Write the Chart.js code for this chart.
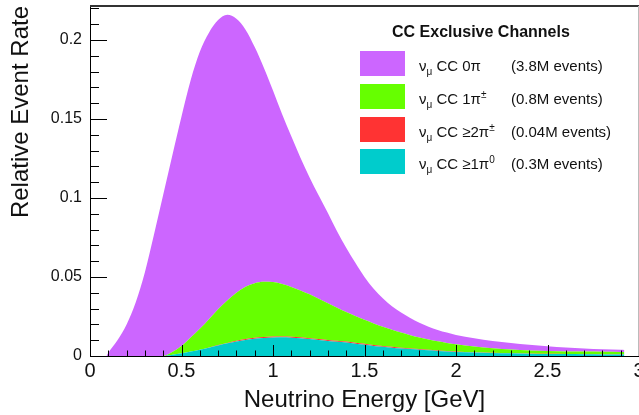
<!DOCTYPE html>
<html lang="en">
<head>
  <meta charset="UTF-8">
  <title>CC Exclusive Channels</title>
  <script src="https://cdn.jsdelivr.net/npm/chart.js"></script>
  <style>
    body { margin: 0; background: #fff; overflow: hidden; }
    #wrap { position: relative; width: 639px; height: 415px; }
    #legend { position: absolute; left: 0; top: 0; font-family: "Liberation Sans", Arial, sans-serif; color: #111; }
    #legend .title { position: absolute; left: 392px; top: 24px; font-size: 16px; font-weight: bold; line-height: 1; white-space: nowrap; }
    #legend .box { position: absolute; left: 360px; width: 45px; height: 25px; }
    #legend .name, #legend .count { position: absolute; font-size: 15px; line-height: 1; white-space: nowrap; }
    #legend .name { left: 419px; }
    #legend .count { left: 511px; }
    #legend sub, #legend sup { font-size: 10px; line-height: 0; }
  </style>
</head>
<body>
  <div id="wrap">
    <canvas id="chart" width="639" height="415"></canvas>
    <div id="legend"></div>
  </div>

  <script>
    // neutrino energy bins (GeV)
    const energy = [0.09, 0.10, 0.15, 0.20, 0.25, 0.30, 0.35, 0.40,
      0.45, 0.50, 0.55, 0.60, 0.65, 0.70, 0.75, 0.80,
      0.85, 0.90, 0.95, 1.00, 1.05, 1.10, 1.15, 1.20,
      1.25, 1.30, 1.35, 1.40, 1.45, 1.50, 1.55, 1.60,
      1.65, 1.70, 1.75, 1.80, 1.85, 1.90, 1.95, 2.00,
      2.1, 2.2, 2.3, 2.4, 2.5, 2.6, 2.7, 2.8, 2.9, 2.92];

    // relative event rate per channel (stacked: 1pi0 at the bottom, 0pi on top)
    const cc0pi = [0, 0.002, 0.010, 0.020, 0.034, 0.053, 0.077, 0.102,
      0.1245, 0.1453, 0.1628, 0.1753, 0.1813, 0.1830, 0.1808, 0.1733,
      0.1626, 0.1494, 0.1355, 0.1212, 0.1075, 0.0953, 0.0840, 0.0740,
      0.0653, 0.0571, 0.0484, 0.0406, 0.0337, 0.0271, 0.0219, 0.0180,
      0.0149, 0.0127, 0.0108, 0.0093, 0.0081, 0.0072, 0.0065, 0.0059,
      0.0052, 0.0046, 0.0041, 0.0036, 0.0031, 0.0025, 0.0020, 0.0016, 0.0013, 0.0012];

    const cc1piCharged = [0, 0, 0, 0, 0, 0, 0, 0,
      0.0017, 0.0046, 0.0089, 0.0132, 0.0179, 0.0227, 0.0268, 0.0305,
      0.0332, 0.0346, 0.0350, 0.0345, 0.0331, 0.0315, 0.0297, 0.0277,
      0.0255, 0.0233, 0.0210, 0.0188, 0.0169, 0.0152, 0.0137, 0.0122,
      0.0108, 0.0096, 0.0084, 0.0073, 0.0065, 0.0058, 0.0051, 0.0045,
      0.0036, 0.0028, 0.0022, 0.0019, 0.0017, 0.0016, 0.0016, 0.0016, 0.0015, 0.0015];

    const ccMultiPiCharged = [0, 0, 0, 0, 0, 0, 0, 0,
      0, 0, 0, 0, 0.0001, 0.0002, 0.0003, 0.0004,
      0.0005, 0.0006, 0.0006, 0.0006, 0.0006, 0.0006, 0.0006, 0.0006,
      0.0006, 0.0006, 0.0006, 0.0006, 0.0006, 0.0006, 0.0005, 0.0005,
      0.0005, 0.0004, 0.0004, 0.0004, 0.0003, 0.0003, 0.0003, 0.0003,
      0.0002, 0.0002, 0.0002, 0.0001, 0.0001, 0.0001, 0.0001, 0.0001, 0.0001, 0.0001];

    const cc1piNeutral = [0, 0, 0, 0, 0, 0, 0, 0,
      0.0008, 0.0017, 0.0028, 0.0040, 0.0053, 0.0067, 0.0080, 0.0092,
      0.0102, 0.0109, 0.0114, 0.0117, 0.0118, 0.0116, 0.0112, 0.0107,
      0.0101, 0.0095, 0.0090, 0.0085, 0.0078, 0.0071, 0.0064, 0.0058,
      0.0053, 0.0048, 0.0044, 0.0040, 0.0036, 0.0032, 0.0029, 0.0026,
      0.0022, 0.0019, 0.0017, 0.0015, 0.0013, 0.0012, 0.0011, 0.0010, 0.0010, 0.0010];

    // axis ticks
    const xTicks = [0, 0.5, 1, 1.5, 2, 2.5, 3];
    const xTickLabels = ['0', '0.5', '1', '1.5', '2', '2.5', '3'];
    const yTicks = [0, 0.05, 0.1, 0.15, 0.2];
    const yTickLabels = ['0', '0.05', '0.1', '0.15', '0.2'];

    // legend entries, top to bottom
    const legendNames = ['ν<sub>μ</sub> CC 0π', 'ν<sub>μ</sub> CC 1π<sup>±</sup>', 'ν<sub>μ</sub> CC ≥2π<sup>±</sup>', 'ν<sub>μ</sub> CC ≥1π<sup>0</sup>'];
    const legendCounts = ['(3.8M events)', '(0.8M events)', '(0.04M events)', '(0.3M events)'];
    const legendColors = ['#cc66ff', '#66ff00', '#ff3333', '#00cccc'];

    const toPoints = vals => vals.map((v, i) => ({ x: energy[i], y: v }));

    function area(label, vals, color, fill) {
      return {
        label: label,
        data: toPoints(vals),
        backgroundColor: color,
        borderColor: color,
        borderWidth: 0,
        pointRadius: 0,
        fill: fill,
        cubicInterpolationMode: 'monotone'
      };
    }

    // no extra room for edge labels, the frame sits right at the pad edges
    function noPadding(s) {
      s.paddingLeft = 0;
      s.paddingRight = 0;
      s.paddingTop = 0;
      s.paddingBottom = 0;
    }

    // inward ROOT-style ticks plus the frame around the pad
    const frameTicks = {
      id: 'frameTicks',
      afterDatasetsDraw(chart) {
        const { ctx, chartArea: a, scales: { x, y } } = chart;
        ctx.save();
        ctx.strokeStyle = '#000';
        ctx.lineWidth = 1;
        ctx.beginPath();
        for (let i = 0; i <= 30; i++) {
          const px = Math.round(x.getPixelForValue(i / 10)) + 0.5;
          const len = i % 5 === 0 ? 11 : 5.5;
          ctx.moveTo(px, a.bottom);
          ctx.lineTo(px, a.bottom - len);
        }
        for (let i = 0; i <= 22; i++) {
          const py = Math.round(y.getPixelForValue(i / 100)) + 0.5;
          const len = i % 5 === 0 ? 17 : 9;
          ctx.moveTo(a.left, py);
          ctx.lineTo(a.left + len, py);
        }
        // left and bottom axis lines
        ctx.moveTo(a.left + 0.5, a.top);
        ctx.lineTo(a.left + 0.5, a.bottom + 0.5);
        ctx.lineTo(a.right, a.bottom + 0.5);
        ctx.stroke();

        ctx.strokeStyle = '#333';
        ctx.lineWidth = 2;
        ctx.beginPath();
        ctx.moveTo(a.left, a.top);
        ctx.lineTo(a.right, a.top);
        ctx.stroke();

        ctx.strokeStyle = '#bbb';
        ctx.lineWidth = 1;
        ctx.beginPath();
        ctx.moveTo(a.right - 0.5, a.top);
        ctx.lineTo(a.right - 0.5, a.bottom);
        ctx.stroke();
        ctx.restore();
      }
    };

    new Chart(document.getElementById('chart'), {
      type: 'line',
      data: {
        datasets: [
          area('νμ CC ≥1π0', cc1piNeutral, legendColors[3], 'origin'),
          area('νμ CC ≥2π±', ccMultiPiCharged, legendColors[2], '-1'),
          area('νμ CC 1π±', cc1piCharged, legendColors[1], '-1'),
          area('νμ CC 0π', cc0pi, legendColors[0], '-1')
        ]
      },
      options: {
        responsive: false,
        animation: false,
        devicePixelRatio: 1,
        layout: { padding: { top: 6, right: 0, left: 0, bottom: 0 } },
        plugins: { legend: { display: false }, tooltip: { enabled: false } },
        scales: {
          x: {
            type: 'linear',
            min: 0,
            max: 3,
            grid: { display: false, drawTicks: false },
            border: { display: false },
            afterFit: s => { s.height = 59; noPadding(s); },
            afterBuildTicks: s => { s.ticks = xTicks.map(v => ({ value: v })); },
            ticks: {
              autoSkip: false,
              maxRotation: 0,
              padding: 3,
              color: '#111',
              font: { family: 'Liberation Sans', size: 20 },
              callback: (v, i) => xTickLabels[i]
            },
            title: {
              display: true,
              text: 'Neutrino Energy [GeV]',
              color: '#111',
              padding: { top: 0, bottom: 0 },
              font: { family: 'Liberation Sans', size: 24 }
            }
          },
          y: {
            stacked: true,
            min: 0,
            max: 0.2215,
            grid: { display: false, drawTicks: false },
            border: { display: false },
            afterFit: s => { s.width = 90; noPadding(s); },
            afterBuildTicks: s => { s.ticks = yTicks.map(v => ({ value: v })); },
            ticks: {
              padding: 8,
              color: '#111',
              font: { family: 'Liberation Sans', size: 16 },
              callback: (v, i) => yTickLabels[i]
            },
            title: {
              display: true,
              text: 'Relative Event Rate',
              align: 'end',
              color: '#111',
              padding: { top: 7, bottom: 0 },
              font: { family: 'Liberation Sans', size: 24 }
            }
          }
        }
      },
      plugins: [frameTicks]
    });

    // legend block in the upper right
    const legend = document.getElementById('legend');
    legend.innerHTML = '<div class="title">CC Exclusive Channels</div>';
    const boxTops = [51, 84, 117, 149];
    legendNames.forEach((name, i) => {
      const top = boxTops[i];
      legend.innerHTML +=
        `<div class="box" style="top:${top}px;background:${legendColors[i]}"></div>` +
        `<div class="name" style="top:${top + 7}px">${name}</div>` +
        `<div class="count" style="top:${top + 7}px">${legendCounts[i]}</div>`;
    });
  </script>
</body>
</html>
